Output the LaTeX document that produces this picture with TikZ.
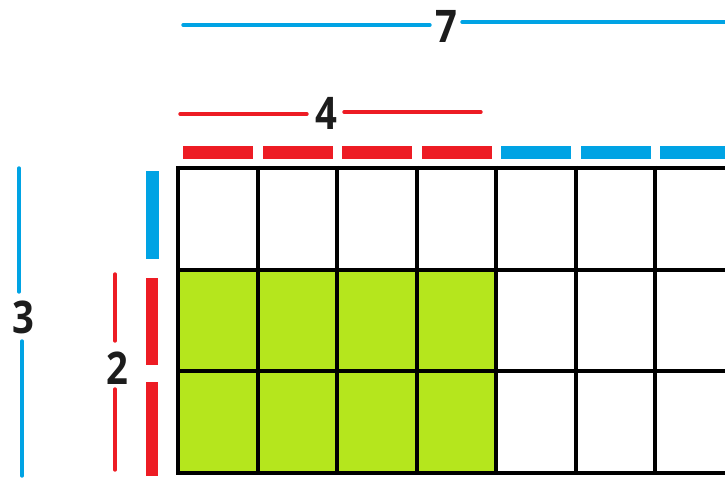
\documentclass[tikz,border=0pt]{standalone}
\usepackage{fontspec}
\setmainfont{Open Sans}
\usetikzlibrary{positioning}
\definecolor{skyblue}{RGB}{0,163,228}
\definecolor{barred}{RGB}{237,28,36}
\definecolor{limegreen}{RGB}{181,230,29}
\definecolor{digitgray}{RGB}{28,28,28}
\newcommand{\cellw}{79.5}
\newcommand{\cellh}{101.7}
\newcommand{\narrow}[1]{\scalebox{0.85}[1]{#1}}
\begin{document}
\begin{tikzpicture}[
  x=1pt, y=-1pt,
  gridline/.style={black, line width=4pt},
  dimline/.style={line width=3.4pt, line cap=round},
  digit/.style={font=\fontsize{45}{45}\selectfont\bfseries, text=digitgray, inner sep=0pt}
]
\useasboundingbox (0,0) rectangle (725,478);
\clip (0,0) rectangle (725,478);

% shaded 4 x 2 part
\fill[limegreen] (178,168+\cellh) rectangle (178+4*\cellw,168+3*\cellh);

% grid of 7 x 3 cells
\foreach \i in {0,...,7}
  \draw[gridline] (178+\i*\cellw,166) -- (178+\i*\cellw,475);
\foreach \j in {0,...,3}
  \draw[gridline] (176,168+\j*\cellh) -- (740,168+\j*\cellh);

% bars over the columns
\foreach \i in {0,...,3}
  \fill[barred] (183+\i*\cellw,146) rectangle ++(70,13);
\foreach \i in {4,...,6}
  \fill[skyblue] (183+\i*\cellw,146) rectangle ++(70,13);

% bars beside the rows
\fill[skyblue] (146,171) rectangle (159,259);
\fill[barred] (146,278) rectangle (158,365);
\fill[barred] (146,382) rectangle (158,476);

% labels
\node[digit] (seven) at (446,26) {\narrow{7}};
\node[digit] (four) at (326,113) {\narrow{4}};
\node[digit] (three) at (23,317) {\narrow{3}};
\node[digit] (two) at (117,368) {\narrow{2}};

\draw[dimline, skyblue] (183,25) -- (430,25);
\draw[dimline, skyblue] (462,22) -- (727,22);
\draw[dimline, barred] (180,114) -- (307,114);
\draw[dimline, barred] (344,112) -- (481,112);
\draw[dimline, skyblue] (19,168) -- (19,292);
\draw[dimline, skyblue] (22,341) -- (22,476);
\draw[dimline, barred] (115,274) -- (115,341);
\draw[dimline, barred] (115,389) -- (115,470);
\end{tikzpicture}
\end{document}
